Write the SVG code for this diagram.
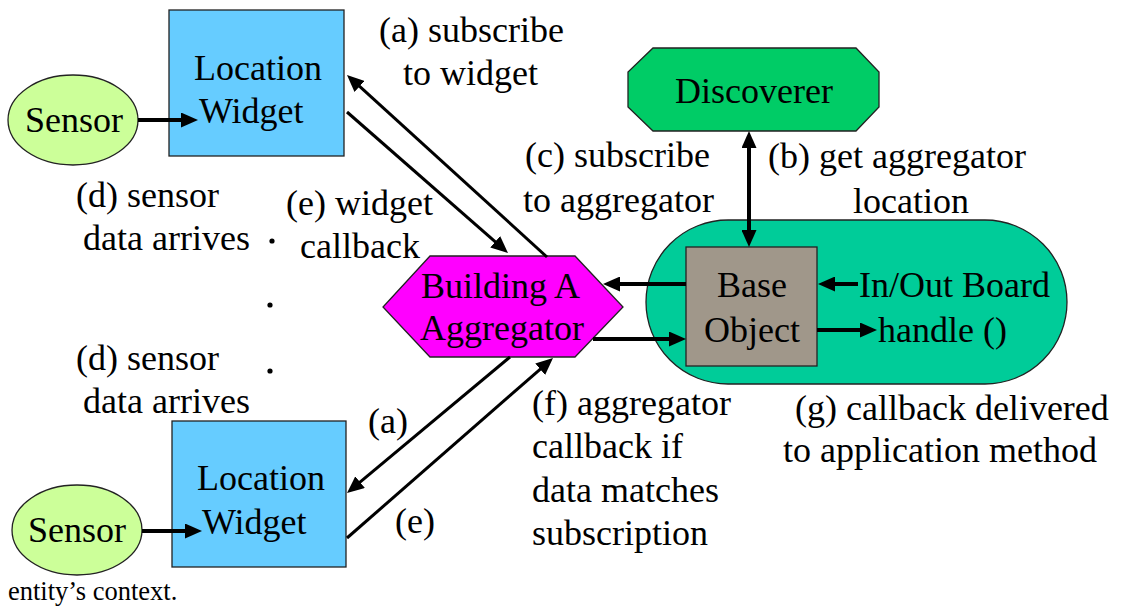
<svg xmlns="http://www.w3.org/2000/svg" width="1122" height="606" viewBox="0 0 1122 606">
<style>
text{font-family:'Liberation Serif',serif;font-size:36px;fill:#000}
.small{font-size:26.5px}
.shape{stroke:#222;stroke-width:1.3}
.conn{stroke:#000;fill:none}
.thick{stroke-width:4}
.thin{stroke-width:3}
</style>
<defs>
<marker id="ah" markerUnits="userSpaceOnUse" markerWidth="17" markerHeight="15" refX="4" refY="7.5" orient="auto-start-reverse" viewBox="0 0 17 15">
<path d="M0,0 L17,7.5 L0,15 z" fill="#000"/>
</marker>
</defs>
<rect width="1122" height="606" fill="#fff"/>

<g id="aggregator-context">
<rect class="shape" x="646" y="220" width="421" height="164" rx="82" ry="82" fill="#00CC99"/>
</g>

<g id="sensor-top">
<ellipse class="shape" cx="73" cy="120" rx="65" ry="45" fill="#CCFF99"/>
<text x="25" y="132">Sensor</text>
</g>
<g id="widget-top">
<rect class="shape" x="169" y="10" width="175" height="146" fill="#66CCFF"/>
<text x="194" y="80">Location</text>
<text x="199" y="123">Widget</text>
</g>
<g id="discoverer">
<polygon class="shape" points="653,48 856,48 879,72 879,107 856,131 653,131 628,107 628,72" fill="#00CC66"/>
<text x="675" y="103">Discoverer</text>
</g>
<g id="aggregator">
<polygon class="shape" points="430,256 575,256 623,307 575,357 430,357 383,307" fill="#FF00FF"/>
<text x="421" y="298">Building A</text>
<text x="420" y="340">Aggregator</text>
</g>
<g id="base-object">
<rect class="shape" x="686" y="247" width="131" height="119" fill="#A0978A"/>
<text x="717" y="297">Base</text>
<text x="704" y="342">Object</text>
</g>
<g id="sensor-bottom">
<ellipse class="shape" cx="77" cy="530" rx="65" ry="45" fill="#CCFF99"/>
<text x="28" y="542">Sensor</text>
</g>
<g id="widget-bottom">
<rect class="shape" x="172" y="421" width="174" height="146" fill="#66CCFF"/>
<text x="197" y="490">Location</text>
<text x="202" y="534">Widget</text>
</g>

<g id="connectors">
<line class="conn thick" x1="138" y1="120" x2="185" y2="120" marker-end="url(#ah)"/>
<line class="conn thick" x1="142" y1="531" x2="189" y2="531" marker-end="url(#ah)"/>
<line class="conn thick" x1="686" y1="284" x2="616" y2="284" marker-end="url(#ah)"/>
<line class="conn thick" x1="593" y1="339" x2="673" y2="339" marker-end="url(#ah)"/>
<line class="conn thick" x1="858" y1="284" x2="831" y2="284" marker-end="url(#ah)"/>
<line class="conn thick" x1="817" y1="330" x2="864" y2="330" marker-end="url(#ah)"/>
<line class="conn thick" x1="749" y1="144" x2="749" y2="234" marker-start="url(#ah)" marker-end="url(#ah)"/>
<line class="conn thin" x1="547" y1="257" x2="356.6" y2="83.7" marker-end="url(#ah)"/>
<line class="conn thin" x1="347" y1="112" x2="498.2" y2="244.4" marker-end="url(#ah)"/>
<line class="conn thin" x1="510" y1="357" x2="357" y2="484.7" marker-end="url(#ah)"/>
<line class="conn thin" x1="347" y1="538" x2="543.2" y2="366.6" marker-end="url(#ah)"/>
</g>

<g id="labels">
<text x="379" y="42">(a) subscribe</text>
<text x="403" y="85">to widget</text>
<text x="525" y="167">(c) subscribe</text>
<text x="523" y="212">to aggregator</text>
<text x="768" y="168">(b) get aggregator</text>
<text x="853" y="213">location</text>
<text x="76" y="207">(d) sensor</text>
<text x="83" y="250">data arrives</text>
<text x="286" y="215">(e) widget</text>
<text x="300" y="258">callback</text>
<text x="859" y="297">In/Out Board</text>
<text x="878" y="342">handle ()</text>
<text x="76" y="370">(d) sensor</text>
<text x="83" y="413">data arrives</text>
<text x="368" y="433">(a)</text>
<text x="395" y="533">(e)</text>
<text x="532" y="415">(f) aggregator</text>
<text x="532" y="458">callback if</text>
<text x="532" y="502">data matches</text>
<text x="532" y="545">subscription</text>
<text x="795" y="420">(g) callback delivered</text>
<text x="783" y="462">to application method</text>
<text class="small" x="8" y="600">entity’s context.</text>
<circle cx="272" cy="241" r="2.6" fill="#000"/>
<circle cx="270" cy="305" r="2.6" fill="#000"/>
<circle cx="270" cy="371" r="2.6" fill="#000"/>
</g>
</svg>
